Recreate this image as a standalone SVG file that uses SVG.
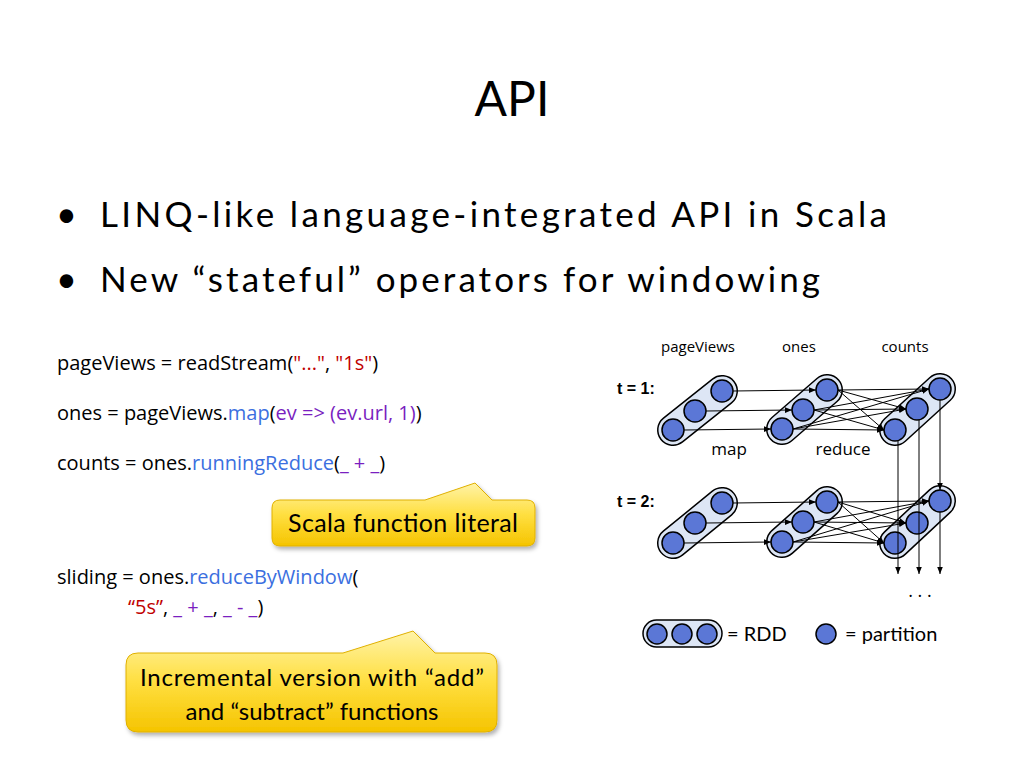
<svg xmlns="http://www.w3.org/2000/svg" width="1024" height="768" viewBox="0 0 1024 768">
<defs>
<marker id="ah" viewBox="0 0 10 10" refX="10" refY="5" markerWidth="7" markerHeight="7" orient="auto" markerUnits="userSpaceOnUse"><path d="M0,1 L10,5 L0,9 Z" fill="#000"/></marker>
<linearGradient id="yg" x1="0" y1="0" x2="0" y2="1"><stop offset="0" stop-color="#fff3a8"/><stop offset="0.5" stop-color="#ffdf40"/><stop offset="1" stop-color="#f5c400"/></linearGradient>
<filter id="sh" x="-10%" y="-10%" width="130%" height="140%"><feDropShadow dx="2" dy="3" stdDeviation="2" flood-color="#000" flood-opacity="0.3"/></filter>
</defs>
<style>
.t{font-family:Lato,"Open Sans",sans-serif;fill:#000}
.c{font-family:"Open Sans","Liberation Sans",sans-serif;font-size:20px;fill:#000}
.bl{fill:#3b6fe0}.pu{fill:#7a1fc0}.rd{fill:#c00000}
.p{fill:#5b77d6;stroke:#000;stroke-width:1.5}
.e{stroke:#000;stroke-width:1;fill:none;marker-end:url(#ah)}
.d{font-family:"Open Sans",sans-serif;font-size:15px}
.bub{fill:url(#yg);stroke:#e0b000;stroke-width:1;filter:url(#sh)}
.co{stroke:#000;stroke-width:32;stroke-linecap:round}
.ci{stroke:#dde6f5;stroke-width:29;stroke-linecap:round}
</style>
<rect width="1024" height="768" fill="#fff"/>
<text class="t" x="512" y="116" font-size="48" text-anchor="middle">API</text>
<text class="t" x="56" y="227" font-size="36">•</text>
<text class="t" x="100" y="227" font-size="35" textLength="787" lengthAdjust="spacing">LINQ-like language-integrated API in Scala</text>
<text class="t" x="56" y="292" font-size="36">•</text>
<text class="t" x="100" y="292" font-size="35" textLength="720" lengthAdjust="spacing">New “stateful” operators for windowing</text>

<g id="code">
<text class="c" x="57" y="370">pageViews = readStream(<tspan class="rd">"..."</tspan>, <tspan class="rd">"1s"</tspan>)</text>
<text class="c" x="57" y="420">ones = pageViews.<tspan class="bl">map</tspan>(<tspan class="pu">ev =&gt; (ev.url, 1)</tspan>)</text>
<text class="c" x="57" y="470">counts = ones.<tspan class="bl">runningReduce</tspan>(<tspan class="pu">_ + _</tspan>)</text>
<text class="c" x="57" y="584">sliding = ones.<tspan class="bl">reduceByWindow</tspan>(</text>
<text class="c" x="128" y="614"><tspan class="rd">“5s”</tspan>, <tspan class="pu">_ + _</tspan>, <tspan class="pu">_ - _</tspan>)</text>
</g>

<g id="bubble1">
<path class="bub" d="M280,500 L425,500 L475,483 L492,500 L527,500 Q535,500 535,508 L535,538 Q535,546 527,546 L280,546 Q272,546 272,538 L272,508 Q272,500 280,500 Z"/>
<text class="t" x="403" y="532" font-size="25" text-anchor="middle" textLength="230" lengthAdjust="spacing">Scala function literal</text>
</g>
<g id="bubble2">
<path class="bub" d="M138,653 L343,653 L413,631 L435,653 L485,653 Q497,653 497,665 L497,720 Q497,732 485,732 L138,732 Q126,732 126,720 L126,665 Q126,653 138,653 Z"/>
<text class="t" x="312" y="686" font-size="24" text-anchor="middle" textLength="344" lengthAdjust="spacing">Incremental version with “add”</text>
<text class="t" x="312" y="720" font-size="24" text-anchor="middle">and “subtract” functions</text>
</g>

<g id="labels" class="d">
<text x="698" y="352" text-anchor="middle">pageViews</text>
<text x="799" y="352" text-anchor="middle">ones</text>
<text x="905" y="352" text-anchor="middle">counts</text>
<text x="617" y="394" font-weight="bold" font-family="Liberation Sans,sans-serif" font-size="16">t = 1:</text>
<text x="617" y="507" font-weight="bold" font-family="Liberation Sans,sans-serif" font-size="16">t = 2:</text>
<text x="729" y="455" text-anchor="middle" font-size="17">map</text>
<text x="843" y="455" text-anchor="middle" font-size="17">reduce</text>
</g>

<g id="t1pv"><line class="co" x1="673" y1="430" x2="722" y2="391"/><line class="ci" x1="673" y1="430" x2="722" y2="391"/>
<circle class="p" cx="722" cy="391" r="11"/><circle class="p" cx="695" cy="411" r="11"/><circle class="p" cx="673" cy="430" r="11"/></g>
<g id="t1on"><line class="co" x1="782" y1="429" x2="827" y2="390"/><line class="ci" x1="782" y1="429" x2="827" y2="390"/>
<circle class="p" cx="827" cy="390" r="11"/><circle class="p" cx="803" cy="410" r="11"/><circle class="p" cx="782" cy="429" r="11"/></g>
<g id="t1ct"><line class="co" x1="895" y1="430" x2="940" y2="389"/><line class="ci" x1="895" y1="430" x2="940" y2="389"/>
<circle class="p" cx="940" cy="389" r="11"/><circle class="p" cx="917" cy="409" r="11"/><circle class="p" cx="895" cy="430" r="11"/></g>
<g id="t2pv"><line class="co" x1="673" y1="543" x2="722" y2="503"/><line class="ci" x1="673" y1="543" x2="722" y2="503"/>
<circle class="p" cx="722" cy="503" r="11"/><circle class="p" cx="695" cy="523" r="11"/><circle class="p" cx="673" cy="543" r="11"/></g>
<g id="t2on"><line class="co" x1="782" y1="542" x2="827" y2="502"/><line class="ci" x1="782" y1="542" x2="827" y2="502"/>
<circle class="p" cx="827" cy="502" r="11"/><circle class="p" cx="803" cy="522" r="11"/><circle class="p" cx="782" cy="542" r="11"/></g>
<g id="t2ct"><line class="co" x1="895" y1="543" x2="940" y2="501"/><line class="ci" x1="895" y1="543" x2="940" y2="501"/>
<circle class="p" cx="940" cy="501" r="11"/><circle class="p" cx="917" cy="523" r="11"/><circle class="p" cx="895" cy="543" r="11"/></g>

<g id="connectors">
<line class="e" x1="733" y1="391" x2="816" y2="390"/>
<line class="e" x1="706" y1="411" x2="792" y2="410"/>
<line class="e" x1="684" y1="430" x2="771" y2="429"/>
<line class="e" x1="838" y1="390" x2="929" y2="389"/>
<line class="e" x1="838" y1="390" x2="906" y2="409"/>
<line class="e" x1="838" y1="390" x2="884" y2="430"/>
<line class="e" x1="814" y1="410" x2="929" y2="389"/>
<line class="e" x1="814" y1="410" x2="906" y2="409"/>
<line class="e" x1="814" y1="410" x2="884" y2="430"/>
<line class="e" x1="793" y1="429" x2="929" y2="389"/>
<line class="e" x1="793" y1="429" x2="906" y2="409"/>
<line class="e" x1="793" y1="429" x2="884" y2="430"/>
<line class="e" x1="733" y1="503" x2="816" y2="502"/>
<line class="e" x1="706" y1="523" x2="792" y2="522"/>
<line class="e" x1="684" y1="543" x2="771" y2="542"/>
<line class="e" x1="838" y1="502" x2="929" y2="501"/>
<line class="e" x1="838" y1="502" x2="906" y2="523"/>
<line class="e" x1="838" y1="502" x2="884" y2="543"/>
<line class="e" x1="814" y1="522" x2="929" y2="501"/>
<line class="e" x1="814" y1="522" x2="906" y2="523"/>
<line class="e" x1="814" y1="522" x2="884" y2="543"/>
<line class="e" x1="793" y1="542" x2="929" y2="501"/>
<line class="e" x1="793" y1="542" x2="906" y2="523"/>
<line class="e" x1="793" y1="542" x2="884" y2="543"/>
<line class="e" x1="898" y1="441" x2="898" y2="574"/>
<line class="e" x1="919" y1="420" x2="919" y2="574"/>
<line class="e" x1="940" y1="400" x2="940" y2="490"/>
<line class="e" x1="940" y1="512" x2="940" y2="574"/>
</g>
<text x="920" y="597" font-family="Open Sans,sans-serif" font-size="18" text-anchor="middle">. . .</text>

<g id="legend">
<rect x="643" y="620" width="79" height="27" rx="13.5" fill="#dde6f5" stroke="#000" stroke-width="1.5"/>
<circle class="p" cx="657" cy="634" r="10"/><circle class="p" cx="682" cy="634" r="10"/><circle class="p" cx="707" cy="634" r="10"/>
<text x="727" y="641" font-family="Lato,sans-serif" font-size="20">= RDD</text>
<circle class="p" cx="826" cy="634" r="10"/>
<text x="845" y="641" font-family="Lato,sans-serif" font-size="20">= partition</text>
</g>
</svg>
